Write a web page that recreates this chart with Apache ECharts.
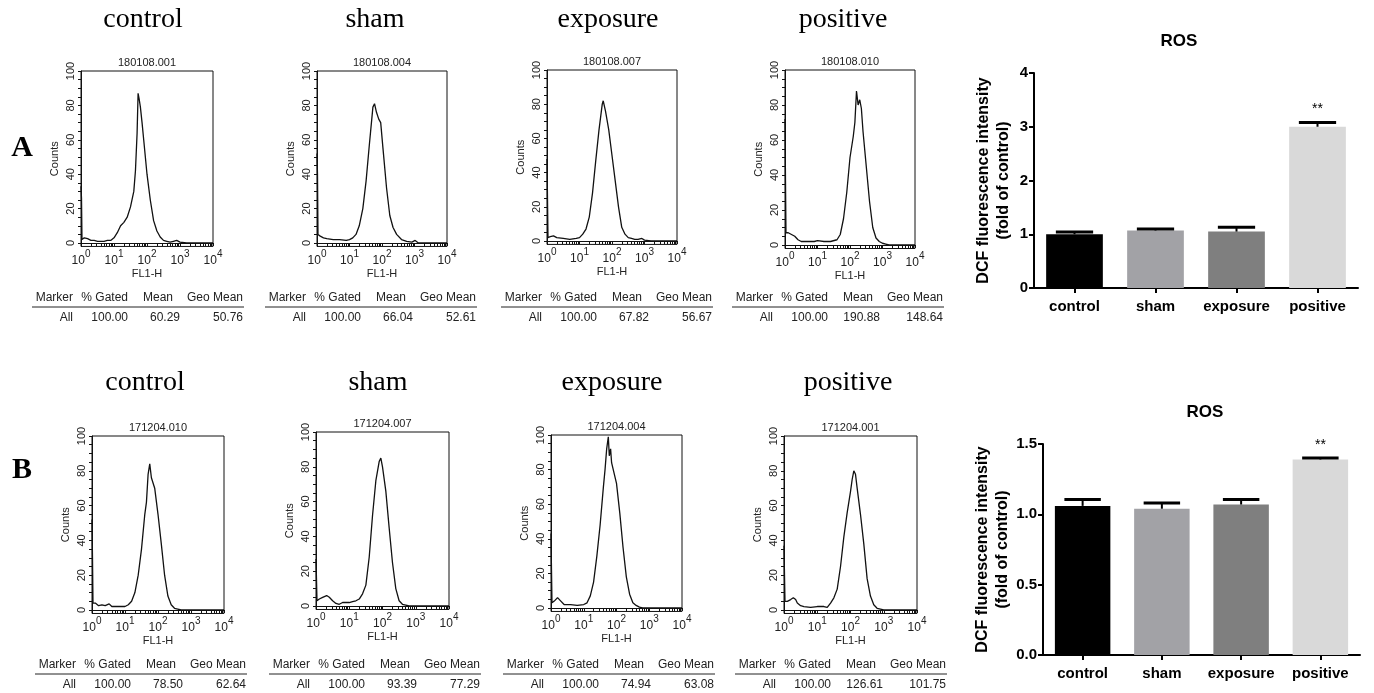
<!DOCTYPE html>
<html>
<head>
<meta charset="utf-8">
<script src="https://cdn.jsdelivr.net/npm/echarts@6/dist/echarts.min.js"></script>
<style>
html,body{margin:0;padding:0;background:#fff;}
#main{width:1374px;height:693px;}
</style>
</head>
<body>
<div id="main"></div>
<script>
// flow histograms: [log10(FL1-H), counts]
var histA_control = [[0,33],[0.015,26],[0.03,2],[0.1,3],[0.2,2.5],[0.3,1.5],[0.4,1.5],[0.5,1],[0.6,1],[0.7,1],[0.8,1.5],[0.9,1.5],[1.0,3],[1.1,6],[1.2,10],[1.3,12],[1.4,15],[1.5,21],[1.6,30],[1.65,42],[1.7,64],[1.73,87],[1.76,84],[1.8,79],[1.85,70],[1.9,60],[2.0,40],[2.1,25],[2.2,13],[2.3,7],[2.4,3.5],[2.5,1.5],[2.6,1],[2.7,0.5],[2.8,1],[2.9,1.5],[3.0,0.5],[3.2,0],[4,0]];
var histA_sham = [[0,52],[0.015,40],[0.03,5],[0.1,4],[0.2,3],[0.3,2.5],[0.5,2],[0.7,2],[0.9,1.5],[1.0,2],[1.1,3],[1.2,5],[1.3,10],[1.41,20],[1.51,36],[1.61,57],[1.72,79],[1.77,81],[1.83,76],[1.9,72],[1.96,70],[2.03,55],[2.14,32],[2.24,16],[2.34,9],[2.45,5],[2.6,2],[2.76,1],[2.92,0.5],[3.02,1.5],[3.12,0],[4,0]];
var histA_exposure = [[0,48],[0.015,25],[0.03,2],[0.1,2.5],[0.2,3],[0.3,2],[0.5,1.5],[0.7,1],[0.9,1.5],[1.0,2],[1.1,4],[1.2,7],[1.3,14],[1.4,28],[1.5,47],[1.6,65],[1.7,80],[1.73,82],[1.8,76],[1.9,65],[2.0,50],[2.1,35],[2.2,20],[2.3,8],[2.4,4],[2.5,2],[2.6,1.5],[2.7,1],[2.8,1],[2.92,1.5],[3.0,0.5],[3.2,0],[4,0]];
var histA_positive = [[0,72],[0.015,37],[0.03,7],[0.1,7],[0.2,6],[0.3,5],[0.4,3],[0.5,2],[0.7,2],[0.9,2],[1.0,2.5],[1.2,2],[1.4,2],[1.6,3],[1.7,6],[1.8,15],[1.9,30],[2.0,50],[2.1,62],[2.15,70],[2.2,88],[2.25,80],[2.3,83],[2.35,78],[2.4,65],[2.5,45],[2.6,25],[2.7,10],[2.8,4],[2.9,2],[3.0,1],[3.1,0.5],[3.2,0],[4,0]];
var histB_control = [[0,52],[0.015,30],[0.03,4],[0.1,4],[0.2,2.5],[0.3,3],[0.4,2.5],[0.52,3.5],[0.6,2],[0.8,2],[1.0,2],[1.1,3],[1.2,5],[1.3,10],[1.4,20],[1.5,35],[1.6,55],[1.65,62],[1.7,78],[1.75,84],[1.8,76],[1.85,76],[1.9,70],[2.0,55],[2.1,38],[2.2,20],[2.3,8],[2.4,3],[2.5,1],[2.6,0.5],[2.7,0],[4,0]];
var histB_sham = [[0,27],[0.015,15],[0.03,3],[0.1,4],[0.2,5],[0.32,6],[0.4,5],[0.5,3],[0.6,1.5],[0.7,1],[0.8,2],[0.9,2],[1.0,2],[1.1,2.5],[1.2,3],[1.3,4],[1.4,7],[1.5,12],[1.6,28],[1.7,52],[1.8,72],[1.9,83],[1.95,85],[2.0,80],[2.1,66],[2.2,45],[2.3,25],[2.4,10],[2.5,3],[2.6,1],[2.7,0.5],[2.8,0],[4,0]];
var histB_exposure = [[0,43],[0.015,22],[0.03,3],[0.1,4],[0.2,6],[0.25,7],[0.3,4],[0.4,2],[0.6,2],[0.8,1.5],[1.0,2],[1.1,3],[1.2,7],[1.3,15],[1.4,30],[1.5,48],[1.6,70],[1.65,80],[1.7,92],[1.75,99],[1.78,88],[1.82,92],[1.85,84],[1.9,85],[2.0,72],[2.1,55],[2.2,35],[2.3,18],[2.4,8],[2.5,3],[2.6,1.5],[2.7,0.5],[2.8,0],[4,0]];
var histB_positive = [[0,37],[0.015,20],[0.03,5],[0.1,5],[0.2,6],[0.28,7],[0.35,6],[0.4,4],[0.5,2.5],[0.6,2],[0.8,1.5],[1.0,2],[1.2,2],[1.3,1.5],[1.4,4],[1.5,7],[1.6,12],[1.7,25],[1.8,42],[1.9,56],[2.0,68],[2.05,75],[2.1,80],[2.15,78],[2.2,70],[2.3,55],[2.4,38],[2.5,18],[2.6,8],[2.7,3],[2.8,1],[2.9,0.5],[3.0,0],[4,0]];

var groups = ['control', 'sham', 'exposure', 'positive'];
var sampleIds = ['180108.001', '180108.004', '180108.007', '180108.010', '171204.010', '171204.007', '171204.004', '171204.001'];
var gated = [100.00, 100.00, 100.00, 100.00, 100.00, 100.00, 100.00, 100.00];
var mean = [60.29, 66.04, 67.82, 190.88, 78.50, 93.39, 74.94, 126.61];
var geoMean = [50.76, 52.61, 56.67, 148.64, 62.64, 77.29, 63.08, 101.75];

var rosA = [1.0, 1.07, 1.05, 3.0];
var rosA_err = [0.04, 0.03, 0.08, 0.08];
var rosB = [1.06, 1.04, 1.07, 1.39];
var rosB_err = [0.045, 0.04, 0.035, 0.01];
var sig = ['', '', '', '**'];
var barColors = ['#000000', '#a2a2a6', '#7f7f7f', '#d9d9d9'];

var hists = [histA_control, histA_sham, histA_exposure, histA_positive,
             histB_control, histB_sham, histB_exposure, histB_positive];

// layout of the small panels
var histLeft = [81, 317, 547, 785, 92, 316, 551, 784];
var histRight = [213, 447, 677, 915, 224, 449, 682, 917];
var histTop = [71, 71, 70, 70, 436, 432, 435, 436];
var histZero = [243, 243, 241, 245, 610, 606, 608, 610];
var titleX = [143, 375, 608, 843, 145, 378, 612, 848];
var tableLeft = [33, 266, 502, 733, 36, 270, 504, 736];

var SANS = 'Liberation Sans, Arial, sans-serif';
var SERIF = 'Liberation Serif, Times New Roman, serif';

var myChart = echarts.init(document.getElementById('main'));

var grids = [], xAxes = [], yAxes = [], series = [], graphics = [];

// log minor tick positions
var logTicks = [];
for (var d = 0; d < 4; d++) {
    for (var k = 1; k < 10; k++) logTicks.push(d + Math.log10(k));
}
logTicks.push(4);
var countTicks = [];
for (var c = 0; c <= 100; c += 5) countTicks.push(c);

for (var i = 0; i < 8; i++) {
    var h = histZero[i] - histTop[i];
    grids.push({
        left: histLeft[i], top: histTop[i],
        width: histRight[i] - histLeft[i], height: h * 1.02,
        show: true, borderColor: '#111', borderWidth: 1, backgroundColor: 'transparent'
    });
    xAxes.push({
        type: 'value', gridIndex: i, min: 0, max: 4, interval: 1,
        name: 'FL1-H', nameLocation: 'middle', nameGap: 22,
        nameTextStyle: {fontFamily: SANS, fontSize: 11, color: '#222'},
        axisLine: {show: true, lineStyle: {color: '#111', width: 1}},
        axisTick: {show: true, customValues: logTicks, length: 3, lineStyle: {color: '#111'}},
        splitLine: {show: false},
        axisLabel: {
            margin: 3, color: '#222',
            formatter: function (v) { return '{b|10}{s|' + v + '}'; },
            rich: {
                b: {fontFamily: SANS, fontSize: 12, lineHeight: 17, verticalAlign: 'bottom', color: '#222'},
                s: {fontFamily: SANS, fontSize: 10, lineHeight: 10, verticalAlign: 'top', color: '#222'}
            }
        }
    });
    yAxes.push({
        type: 'value', gridIndex: i, min: -2, max: 100,
        name: 'Counts', nameLocation: 'middle', nameGap: 21, nameRotate: 90,
        nameTextStyle: {fontFamily: SANS, fontSize: 11, color: '#222'},
        axisLine: {show: true, lineStyle: {color: '#111', width: 1}},
        axisTick: {show: true, customValues: countTicks, length: 3, lineStyle: {color: '#111'}},
        splitLine: {show: false},
        axisLabel: {
            customValues: [0, 20, 40, 60, 80, 100], rotate: 90, margin: 5,
            fontFamily: SANS, fontSize: 11, color: '#222'
        }
    });
    series.push({
        type: 'line', xAxisIndex: i, yAxisIndex: i, data: hists[i],
        showSymbol: false, symbol: 'none', animation: false,
        lineStyle: {color: '#111', width: 1.3}
    });

    var row = i < 4 ? 0 : 1;
    // group title
    graphics.push({type: 'text', x: titleX[i], y: row ? 383 : 20, style: {
        text: groups[i % 4], font: '28px ' + SERIF, fill: '#000', align: 'center', verticalAlign: 'middle'}});
    // sample id
    graphics.push({type: 'text', x: (histLeft[i] + histRight[i]) / 2, y: histTop[i] - 8, style: {
        text: sampleIds[i], font: '11px ' + SANS, fill: '#222', align: 'center', verticalAlign: 'middle'}});

    // statistics table
    var L = tableLeft[i];
    var hy = row ? 665 : 298;
    var cols = [['Marker', L + 40], ['% Gated', L + 95], ['Mean', L + 140], ['Geo Mean', L + 210]];
    cols.forEach(function (col) {
        graphics.push({type: 'text', x: col[1], y: hy, style: {
            text: col[0], font: '12px ' + SANS, fill: '#222', align: 'right', verticalAlign: 'middle'}});
    });
    graphics.push({type: 'line', shape: {x1: L - 1, y1: hy + 9, x2: L + 211, y2: hy + 9},
        style: {stroke: '#222', lineWidth: 1}});
    var vals = [['All', L + 40], [gated[i].toFixed(2), L + 95], [mean[i].toFixed(2), L + 147], [geoMean[i].toFixed(2), L + 210]];
    vals.forEach(function (col) {
        graphics.push({type: 'text', x: col[1], y: hy + 20, style: {
            text: col[0], font: '12px ' + SANS, fill: '#222', align: 'right', verticalAlign: 'middle'}});
    });
}

// panel letters
graphics.push({type: 'text', x: 22, y: 148, style: {text: 'A', font: 'bold 30px ' + SERIF, fill: '#000', align: 'center', verticalAlign: 'middle'}});
graphics.push({type: 'text', x: 22, y: 470, style: {text: 'B', font: 'bold 30px ' + SERIF, fill: '#000', align: 'center', verticalAlign: 'middle'}});

// ROS bar charts
function errorItem(params, api) {
    var cat = api.value(0), v = api.value(1), e = api.value(2);
    var p0 = api.coord([cat, v]);
    var p1 = api.coord([cat, v + e]);
    var w = api.size([1, 0])[0] * 0.23;
    var children = [
        {type: 'line', shape: {x1: p0[0], y1: p0[1], x2: p1[0], y2: p1[1]}, style: {stroke: '#000', lineWidth: 2}},
        {type: 'line', shape: {x1: p1[0] - w, y1: p1[1], x2: p1[0] + w, y2: p1[1]}, style: {stroke: '#000', lineWidth: 3}}
    ];
    var s = sig[params.dataIndex];
    if (s) {
        children.push({type: 'text', x: p1[0], y: p1[1] - 13, style: {
            text: s, font: '14px ' + SANS, fill: '#000', align: 'center', verticalAlign: 'middle'}});
    }
    return {type: 'group', children: children};
}

var barGrids = [
    {left: 1034, top: 73, width: 324, height: 215, max: 4, interval: 1, dec: 0, gap: 20, vals: rosA, errs: rosA_err, title: [1179, 41]},
    {left: 1043, top: 444, width: 317, height: 211, max: 1.5, interval: 0.5, dec: 1, gap: 30, vals: rosB, errs: rosB_err, title: [1205, 412]}
];

barGrids.forEach(function (b, j) {
    var gi = 8 + j;
    grids.push({left: b.left, top: b.top, width: b.width, height: b.height});
    xAxes.push({
        type: 'category', gridIndex: gi, data: groups,
        axisLine: {lineStyle: {color: '#000', width: 2}},
        axisTick: {show: true, alignWithLabel: true, length: 5, lineStyle: {color: '#000', width: 2}},
        axisLabel: {fontFamily: SANS, fontWeight: 'bold', fontSize: 15, color: '#000', margin: 11, interval: 0}
    });
    yAxes.push({
        type: 'value', gridIndex: gi, min: 0, max: b.max, interval: b.interval,
        name: 'DCF fluorescence intensity\n(fold of control)', nameLocation: 'middle', nameGap: b.gap,
        nameTextStyle: {fontFamily: SANS, fontWeight: 'bold', fontSize: 16, color: '#000', lineHeight: 20},
        axisLine: {show: true, lineStyle: {color: '#000', width: 2}},
        axisTick: {show: true, length: 5, lineStyle: {color: '#000', width: 2}},
        splitLine: {show: false},
        axisLabel: {fontFamily: SANS, fontWeight: 'bold', fontSize: 15, color: '#000', margin: 6,
            formatter: function (v) { return v.toFixed(b.dec); }}
    });
    series.push({
        type: 'bar', xAxisIndex: gi, yAxisIndex: gi, barWidth: '70%', animation: false,
        data: b.vals.map(function (v, k) { return {value: v, itemStyle: {color: barColors[k]}}; })
    });
    series.push({
        type: 'custom', xAxisIndex: gi, yAxisIndex: gi, animation: false, z: 3,
        renderItem: errorItem,
        data: b.vals.map(function (v, k) { return [k, v, b.errs[k]]; })
    });
    graphics.push({type: 'text', x: b.title[0], y: b.title[1], style: {
        text: 'ROS', font: 'bold 17px ' + SANS, fill: '#000', align: 'center', verticalAlign: 'middle'}});
});

var option = {
    backgroundColor: '#fff',
    animation: false,
    grid: grids,
    xAxis: xAxes,
    yAxis: yAxes,
    series: series,
    graphic: graphics
};
myChart.setOption(option);
</script>
</body>
</html>
